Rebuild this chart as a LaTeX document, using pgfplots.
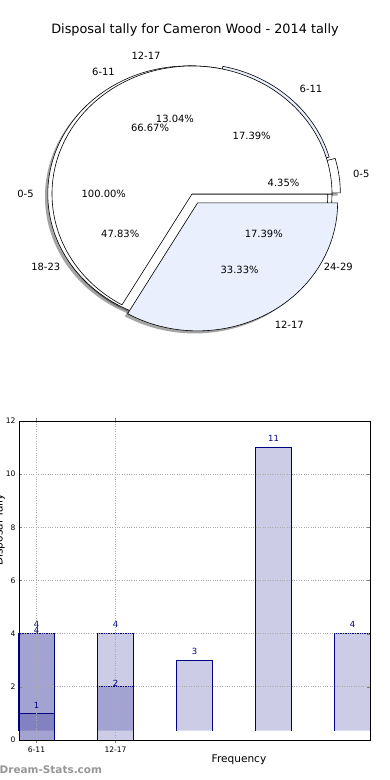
\documentclass[border=0pt]{standalone}
\usepackage{pgfplots}
\usepackage{pgfplotstable}
\pgfplotsset{compat=1.18}
\usepackage{fontspec}
\setmainfont{DejaVu Sans}
\definecolor{barnavy}{RGB}{0,0,128}
\definecolor{pieblue}{RGB}{233,239,252}
\definecolor{gridgray}{RGB}{170,170,170}
\definecolor{wmgray}{RGB}{150,150,150}

% pie data: value/colour/explode/label
\def\pieA{2/white/0/6-11, 1/pieblue/0.08/12-17}
\def\pieB{1/white/0.06/0-5, 4/pieblue/0.025/6-11, 3/white/0/12-17, 11/pieblue/0/18-23, 4/white/0/24-29}
\def\pieC{1/white/0.03/0-5}

% bar data
\pgfplotstableread{
x v
0 4
1 4
2 3
3 11
4 4
}\tallyP

\newcommand\piefont{\fontsize{10}{12}\selectfont}
\gdef\pietotal{0}
\gdef\pieangle{0}
\newcommand\pieloop[2]{%
  \gdef\pietotal{0}%
  \foreach \pv/\pc/\pe/\plab in #1 {\pgfmathsetmacro\ptmp{\pietotal+\pv}\global\let\pietotal\ptmp}%
  \gdef\pieangle{0}%
  \foreach \pv/\pc/\pe/\plab in #1 {%
    \pgfmathsetmacro\pa{\pieangle}%
    \pgfmathsetmacro\pb{\pa+360*\pv/\pietotal}%
    \pgfmathsetmacro\pmid{(\pa+\pb)/2}%
    \pgfmathsetmacro\ppct{100*\pv/\pietotal}%
    #2%
    \global\let\pieangle\pb
  }%
}
\newcommand\pwedge[1]{%
  \path[#1] (axis cs:{\pe*cos(\pmid)},{\pe*sin(\pmid)})
    -- (axis cs:{\pe*cos(\pmid)+cos(\pa)},{\pe*sin(\pmid)+sin(\pa)})
    arc[start angle=\pa, end angle=\pb, x radius=140bp, y radius=128bp] -- cycle;%
}
\newcommand\ptexts{%
  \pgfmathsetmacro\pcos{cos(\pmid)}%
  \ifdim\pcos pt>0pt\def\panc{west}\else\def\panc{east}\fi
  \node[anchor=\panc, inner sep=0pt, font=\piefont] at (axis cs:{(1.1+\pe)*cos(\pmid)},{(1.1+\pe)*sin(\pmid)}) {\plab};%
  \node[inner sep=0pt, font=\piefont] at (axis cs:{(0.6+\pe)*cos(\pmid)},{(0.6+\pe)*sin(\pmid)}) {\pgfmathprintnumber[fixed,fixed zerofill,precision=2,assume math mode=true]{\ppct}\%};%
}

\begin{document}
\begin{tikzpicture}
\useasboundingbox (0,0) rectangle (390bp,780bp);
\node[font=\fontsize{12.9}{15}\selectfont] at (195bp,750bp) {Disposal tally for Cameron Wood - 2014 tally};

% ---------------- pie ----------------
\begin{axis}[at={(192bp,586bp)}, anchor=origin, x=140bp, y=128bp,
  xmin=-1.4, xmax=1.4, ymin=-1.3, ymax=1.3, hide axis, clip=false]
\addplot[draw=none] coordinates {(0,0)};
\pgfplotsextra{%
  \pieloop{\pieB}{\pwedge{fill=black!70, fill opacity=0.5, shift={(-2.8bp,-2.56bp)}}}%
  \pieloop{\pieC}{\pwedge{fill=black!70, fill opacity=0.5, shift={(-2.8bp,-2.56bp)}}}%
  \pieloop{\pieA}{\pwedge{fill=black!70, fill opacity=0.5, shift={(-2.8bp,-2.56bp)}}}%
  \pieloop{\pieB}{\pwedge{fill=\pc, draw=black, line width=0.6bp}}%
  \pieloop{\pieC}{\pwedge{fill=\pc, draw=black, line width=0.6bp}}%
  \pieloop{\pieA}{\pwedge{fill=\pc, draw=black, line width=0.6bp}}%
  \pieloop{\pieB}{\ptexts}%
  \pieloop{\pieC}{\ptexts}%
  \pieloop{\pieA}{\ptexts}%
}
\end{axis}

% ---------------- bars raised off the floor (their foot at 0.35) ----------------
\begin{axis}[at={(19bp,40bp)}, anchor=south west, scale only axis,
  width=351bp, height=319bp, xmin=-0.2215, xmax=4.2215, ymin=-0.35, ymax=11.65,
  hide axis, clip=false,
  /pgf/number format/assume math mode=true]
\addplot[ybar, bar width=36bp, bar shift=0pt, fill=barnavy, fill opacity=0.2, draw=none,
  point meta=explicit, nodes near coords,
  every node near coord/.style={anchor=center, yshift=9bp, text=barnavy, text opacity=1,
    font=\fontsize{8.5}{10}\selectfont}]
  table[x=x, y expr=\thisrow{v}-0.35, meta=v] {\tallyP};
\addplot[ycomb, draw=barnavy, line width=0.8bp, no marks, xshift=-18bp]
  table[x=x, y expr=\thisrow{v}-0.35] {\tallyP};
\addplot[ycomb, draw=barnavy, line width=0.8bp, no marks, xshift=18bp]
  table[x=x, y expr=\thisrow{v}-0.35] {\tallyP};
\addplot[only marks, mark=-, mark size=18.4bp, mark options={draw=barnavy, line width=0.8bp}]
  table[x=x, y expr=\thisrow{v}-0.35] {\tallyP};
\end{axis}

% ---------------- bars (main axis) ----------------
\begin{axis}[at={(19bp,40bp)}, anchor=south west, scale only axis,
  width=351bp, height=319bp, xmin=-0.2215, xmax=4.2215, ymin=0, ymax=12,
  xtick={0,1}, xticklabels={6-11,12-17}, ytick={0,2,...,12},
  grid=major, grid style={gridgray, dotted, line width=0.8bp},
  axis on top, axis line style={line width=0.9bp},
  tick label style={font=\fontsize{7.6}{9}\selectfont},
  /pgf/number format/assume math mode=true,
  tick align=inside, major tick length=3bp, tick style={gray},
  ybar, bar width=36bp]
\addplot[bar shift=0pt, fill=barnavy, fill opacity=0.2, draw=barnavy, line width=0.8bp,
  nodes near coords,
  every node near coord/.style={anchor=center, yshift=3bp, text=barnavy, text opacity=1,
    font=\fontsize{8.5}{10}\selectfont}]
  coordinates {(0,4) (1,2)};
\addplot[bar shift=0pt, fill=barnavy, fill opacity=0.2, draw=barnavy, line width=0.8bp,
  nodes near coords,
  every node near coord/.style={anchor=center, yshift=8bp, text=barnavy, text opacity=1,
    font=\fontsize{8.5}{10}\selectfont}]
  coordinates {(0,1)};
\end{axis}

\node[rotate=90, anchor=base, font=\fontsize{10.6}{12}\selectfont] at (2.5bp,250bp) {Disposal Tally};
\node[font=\fontsize{10.6}{12}\selectfont] at (239bp,20bp) {Frequency};
\node[anchor=west, inner sep=0pt, font=\bfseries\fontsize{10.5}{12}\selectfont, text=wmgray] at (-0.5bp,10bp) {Dream-Stats.com};
\end{tikzpicture}
\end{document}
